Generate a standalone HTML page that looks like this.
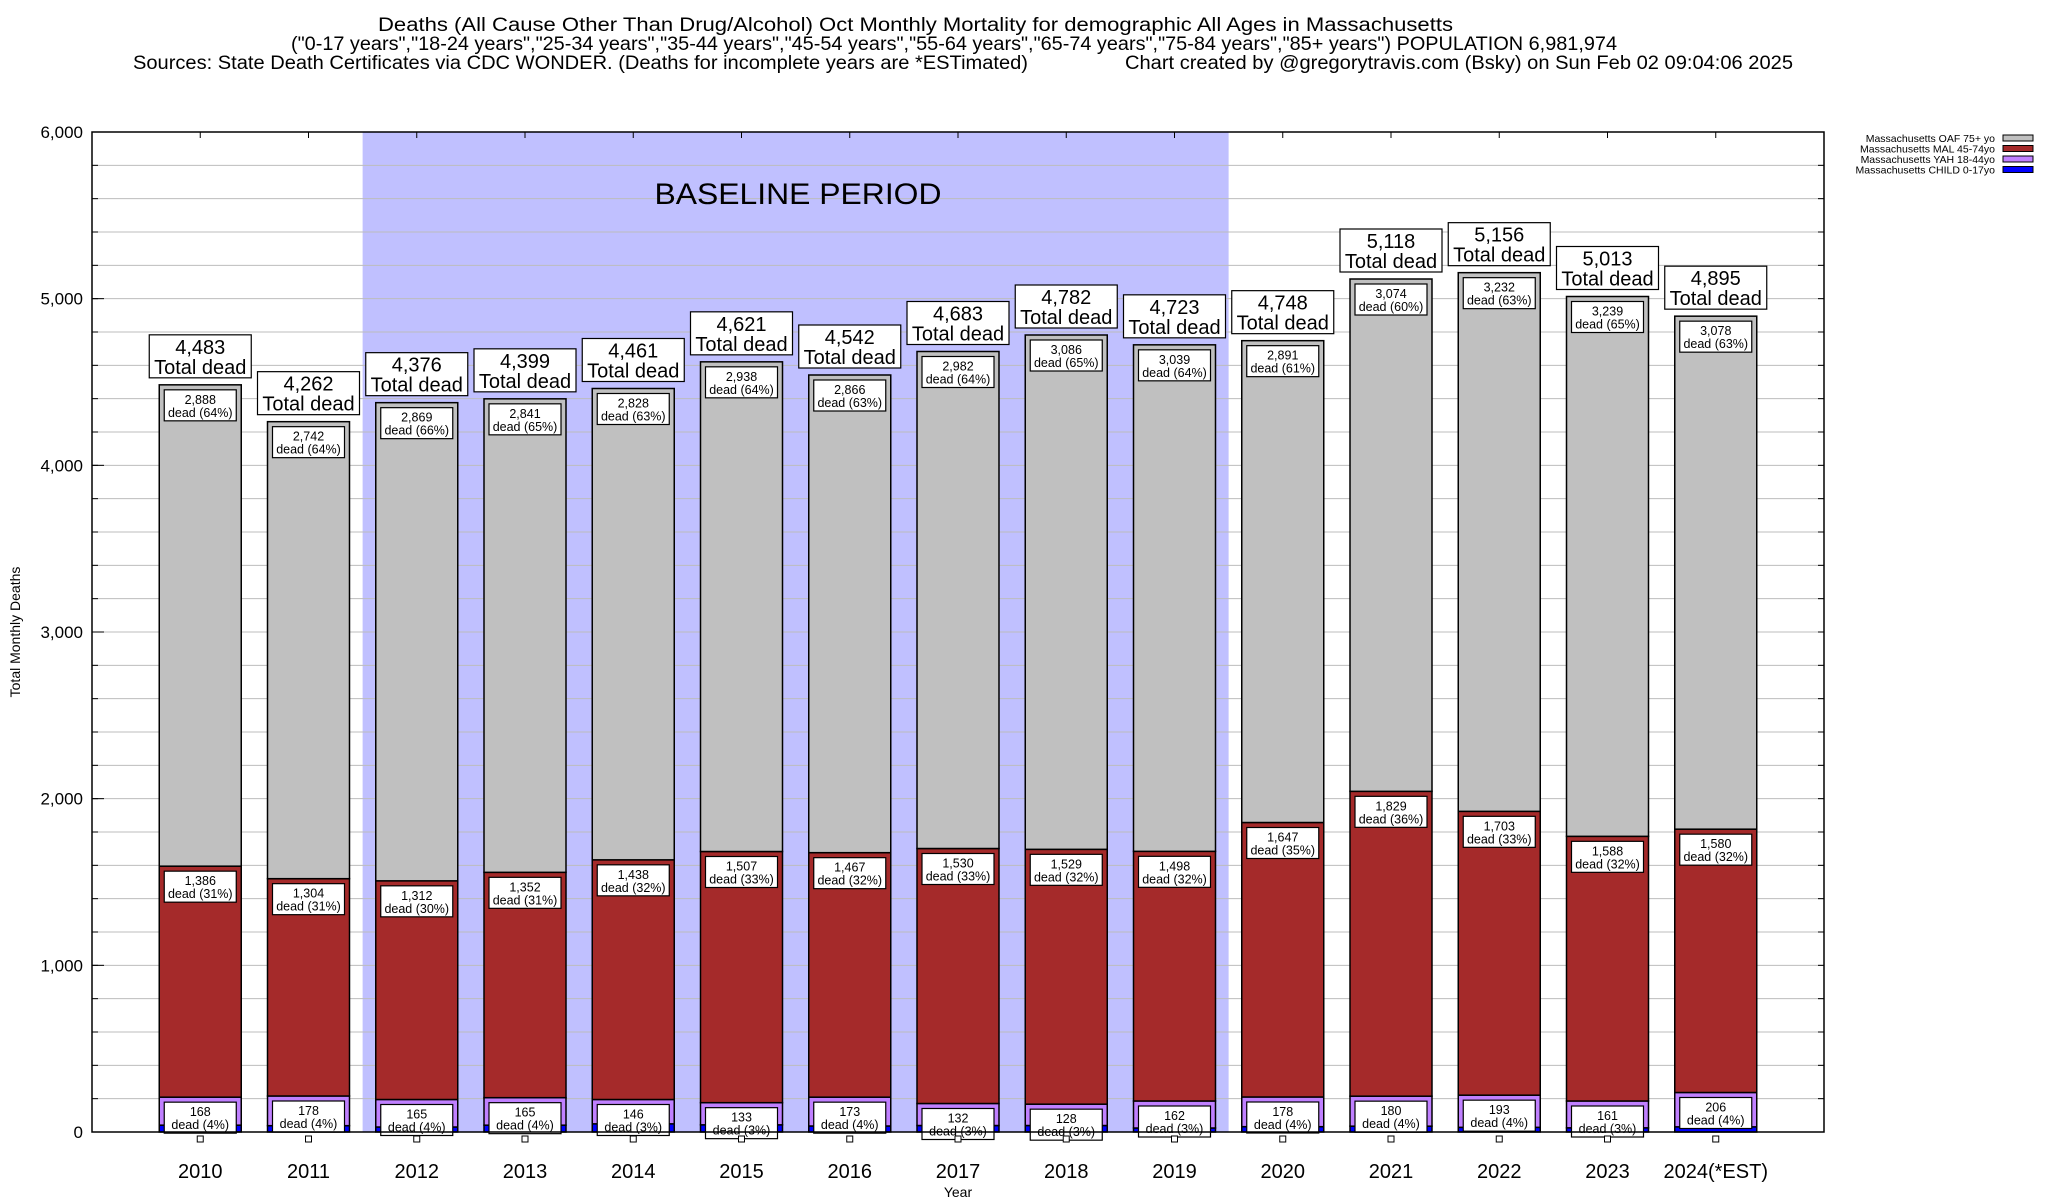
<!DOCTYPE html>
<html><head><meta charset="utf-8">
<style>
html,body{margin:0;padding:0;background:#fff;}
svg{display:block;font-family:"Liberation Sans",sans-serif;}
</style></head>
<body>
<svg id="chart" width="2048" height="1200" viewBox="0 0 2048 1200" xmlns="http://www.w3.org/2000/svg">
<g font-size="19" fill="#000">
<text x="378" y="31" textLength="1075" lengthAdjust="spacingAndGlyphs">Deaths (All Cause Other Than Drug/Alcohol) Oct Monthly Mortality for demographic All Ages in Massachusetts</text>
<text x="291" y="50" textLength="1326" lengthAdjust="spacingAndGlyphs">("0-17 years","18-24 years","25-34 years","35-44 years","45-54 years","55-64 years","65-74 years","75-84 years","85+ years") POPULATION 6,981,974</text>
<text x="133" y="69" textLength="895" lengthAdjust="spacingAndGlyphs">Sources: State Death Certificates via CDC WONDER. (Deaths for incomplete years are *ESTimated)</text>
<text x="1125" y="69" textLength="668" lengthAdjust="spacingAndGlyphs">Chart created by @gregorytravis.com (Bsky) on Sun Feb 02 09:04:06 2025</text>
</g>
<g id="plot"></g>
</svg>
<script>
const categories = ["2010","2011","2012","2013","2014","2015","2016","2017","2018","2019","2020","2021","2022","2023","2024(*EST)"];
const childVals = [41,38,30,41,49,43,36,39,39,24,32,35,28,25,31];
const yahVals = [168,178,165,165,146,133,173,132,128,162,178,180,193,161,206];
const malVals = [1386,1304,1312,1352,1438,1507,1467,1530,1529,1498,1647,1829,1703,1588,1580];
const oafVals = [2888,2742,2869,2841,2828,2938,2866,2982,3086,3039,2891,3074,3232,3239,3078];
const totalVals = [4483,4262,4376,4399,4461,4621,4542,4683,4782,4723,4748,5118,5156,5013,4895];
const yTicks = [0,1000,2000,3000,4000,5000,6000];
const baselineStart = 2, baselineEnd = 9; // category indices

const NS = "http://www.w3.org/2000/svg";
const L = 92, R = 1824, T = 132, B = 1132, YMAX = 6000;
const step = (R - L) / (categories.length + 1);
const xOf = i => L + step * (i + 1);
const yOf = v => B - (v / YMAX) * (B - T);
const fmt = v => v.toLocaleString("en-US");
const plot = document.getElementById("plot");
function mk(tag, attrs, parent) {
  const e = document.createElementNS(NS, tag);
  for (const k in attrs) e.setAttribute(k, attrs[k]);
  (parent || plot).appendChild(e);
  return e;
}

const band = mk("rect", {x: xOf(baselineStart) - step/2, y: T, width: step*(baselineEnd-baselineStart+1), height: B-T, fill: "#c0c0ff"});



for (let v = 200; v < YMAX; v += 200) {
  const g = mk("line", {x1: L, x2: R, y1: yOf(v), y2: yOf(v), stroke: "#bdbdbd", "stroke-width": 1});
  
  
  const t1 = mk("line", {x1: L, x2: L+6, y1: yOf(v), y2: yOf(v), stroke: "#000"});
  
  
  const t2 = mk("line", {x1: R-6, x2: R, y1: yOf(v), y2: yOf(v), stroke: "#000"});
  
  
}
const bt = mk("text", {x: 798, y: 204, "font-size": 30, "text-anchor": "middle", textLength: 287, lengthAdjust: "spacingAndGlyphs"});
bt.textContent = "BASELINE PERIOD";



yTicks.forEach(v => {
  const t = mk("text", {x: 83, y: yOf(v) + 6, "font-size": 17, "text-anchor": "end"});
  t.textContent = fmt(v);
  
  
  const tk = mk("line", {x1: L, x2: L+12, y1: yOf(v), y2: yOf(v), stroke: "#000"});
  
  
});
const yt = mk("text", {x: 0, y: 0, "font-size": 14, "text-anchor": "middle", transform: "translate(20,632) rotate(-90)"});
yt.textContent = "Total Monthly Deaths";



const series = [
  {vals: childVals, color: "#0000ff", name: "child"},
  {vals: yahVals, color: "#c080ff", name: "yah"},
  {vals: malVals, color: "#a52a2a", name: "mal"},
  {vals: oafVals, color: "#c0c0c0", name: "oaf"}
];
const bw = 82;
categories.forEach((c, i) => {
  const cx = xOf(i);
  let base = 0;
  const total = totalVals[i];
  series.forEach(s => {
    const v = s.vals[i];
    const r = mk("rect", {x: cx - bw/2, y: yOf(base + v), width: bw, height: yOf(base) - yOf(base + v), fill: s.color, stroke: "#000", "stroke-width": 1.5});
    
    
    base += v;
  });
  let b2 = childVals[i];
  [yahVals, malVals, oafVals].forEach((arr, k) => {
    const v = arr[i];
    const top = yOf(b2 + v);
    const g = mk("g", {});
    
    
    mk("rect", {x: cx - 36, y: top + 5, width: 72, height: 31, fill: "#fff", stroke: "#000", "stroke-width": 1.2}, g);
    const t1 = mk("text", {x: cx, y: top + 19, "font-size": 12.5, "text-anchor": "middle"}, g);
    t1.textContent = fmt(v);
    const t2 = mk("text", {x: cx, y: top + 32, "font-size": 12.5, "text-anchor": "middle"}, g);
    t2.textContent = "dead (" + Math.round(v / total * 100) + "%)";
    b2 += v;
  });
  const ty = yOf(total);
  const tg = mk("g", {});
  
  
  mk("rect", {x: cx - 51, y: ty - 50, width: 102, height: 43, fill: "#fff", stroke: "#000", "stroke-width": 1.2}, tg);
  const a = mk("text", {x: cx, y: ty - 31, "font-size": 20, "text-anchor": "middle"}, tg);
  a.textContent = fmt(total);
  const b = mk("text", {x: cx, y: ty - 11, "font-size": 20, "text-anchor": "middle"}, tg);
  b.textContent = "Total dead";
  const sq = mk("rect", {x: cx - 3, y: 1136, width: 6, height: 6, fill: "#fff", stroke: "#000", "stroke-width": 1});
  
  
  const xl = mk("text", {x: cx, y: 1178, "font-size": 20, "text-anchor": "middle"});
  xl.textContent = c;
  
  
  const xt = mk("line", {x1: cx, x2: cx, y1: T, y2: T + 6, stroke: "#000"});
  
  
});
const xtitle = mk("text", {x: 958, y: 1197, "font-size": 14, "text-anchor": "middle"});
xtitle.textContent = "Year";



const frame = mk("rect", {x: L, y: T, width: R - L, height: B - T, fill: "none", stroke: "#000", "stroke-width": 1.5});



const legendLabels = ["Massachusetts OAF 75+ yo","Massachusetts MAL 45-74yo","Massachusetts YAH 18-44yo","Massachusetts CHILD 0-17yo"];
const legendColors = ["#c0c0c0","#a52a2a","#c080ff","#0000ff"];
legendLabels.forEach((lab, k) => {
  const y = 138 + k * 10.5;
  const g = mk("g", {});
  
  
  const t = mk("text", {x: 1995, y: y + 4, "font-size": 10.5, "text-anchor": "end"}, g);
  t.textContent = lab;
  mk("rect", {x: 2003, y: y - 3, width: 30, height: 6, fill: legendColors[k], stroke: "#000", "stroke-width": 1}, g);
});
</script>
</body></html>
